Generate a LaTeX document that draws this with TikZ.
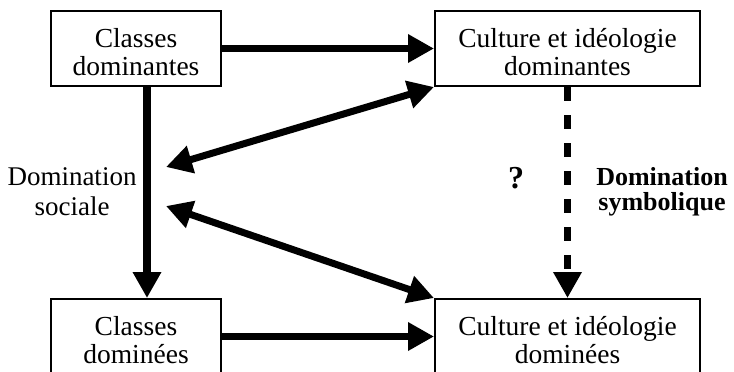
\documentclass[tikz,border=0pt]{standalone}
\usepackage{fontspec}
\setmainfont{Liberation Serif}
\usetikzlibrary{arrows.meta,calc}
\def\BoxW{85pt}
\def\WideW{132.5pt}
\def\BoxH{37.5pt}
\def\Shift{5.5pt}

\tikzset{
  box/.style={draw, line width=1pt, minimum width=\BoxW, minimum height=\BoxH,
    inner sep=0pt, align=center, text height=26.5pt, text depth=0pt,
    font=\fontsize{13.75}{14}\selectfont},
  wide/.style={box, minimum width=\WideW},
  flow/.style={line width=3.5pt, -{Triangle[length=13pt,width=13.5pt]}},
  both/.style={line width=3.5pt, {Triangle[length=13pt,width=13.5pt]}-{Triangle[length=13pt,width=13.5pt]}},
  lbl/.style={anchor=base, align=center, inner sep=0pt}
}

\begin{document}
\begin{tikzpicture}[x=0.5pt,y=-0.5pt]
  \useasboundingbox (0,0) rectangle (734,371);
  \clip (0,0) rectangle (734,371);
  % boxes
  \node[box] (CD) at (136,48.5) {Classes\\dominantes};
  \node[wide] (ID) at (567.5,48.5) {Culture et idéologie\\dominantes};
  \node[box] (Cd) at (136,336.5) {Classes\\dominées};
  \node[wide] (Id) at (567.5,336.5) {Culture et idéologie\\dominées};
  % free ends of the double arrows
  \coordinate (S1) at (166,167);
  \coordinate (S2) at (166,206);
  % arrows
  \draw[flow] (CD.east) -- (ID.west);
  \draw[flow] (Cd.east) -- (Id.west);
  \draw[flow, line width=4pt] ([xshift=\Shift]CD.south) -- ([xshift=\Shift]Cd.north);
  \draw[flow, dash pattern=on 7pt off 7pt] (ID.south) -- (Id.north);
  \draw[both] (ID.south west) -- (S1);
  \draw[both] (S2) -- (Id.north west);
  % labels (base = last line)
  \node[lbl, font=\fontsize{13.5}{15}\selectfont] (soc) at (72,215) {Domination\\sociale};
  \node[lbl, font=\fontsize{16}{16}\selectfont\bfseries] (q) at (516,188) {?};
  \node[lbl, font=\fontsize{13}{12.5}\selectfont\bfseries] (sym) at (662,210) {Domination\\symbolique};
\end{tikzpicture}
\end{document}
